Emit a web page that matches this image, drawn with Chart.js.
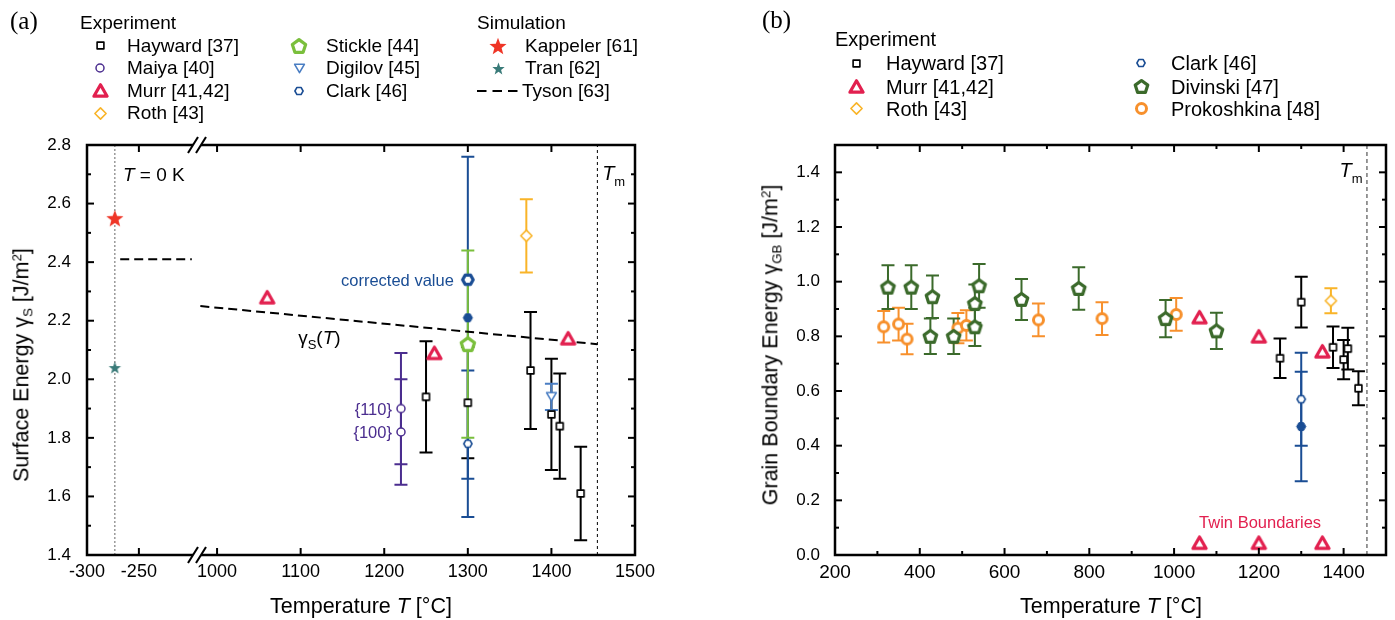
<!DOCTYPE html>
<html><head><meta charset="utf-8">
<script src="https://cdn.jsdelivr.net/npm/chart.js@4.4.1/dist/chart.umd.min.js"></script>
<style>
html,body{margin:0;padding:0;background:#fff;}
#wrap{position:relative;width:1395px;height:620px;overflow:hidden;font-family:"Liberation Sans",Arial,Helvetica,sans-serif;color:#000;background:#fff;}
canvas.c{position:absolute;top:0;}
.t{position:absolute;white-space:nowrap;line-height:22px;font-size:19px;}
.t sub{font-size:0.62em;vertical-align:-0.3em;}
.t sup{font-size:0.62em;vertical-align:0.55em;}
.lm{position:absolute;}
</style></head><body><div id="wrap">
<canvas id="a1" class="c" width="197" height="620" style="left:0px"></canvas>
<canvas id="a2" class="c" width="503" height="620" style="left:177px"></canvas>
<canvas id="b" class="c" width="655" height="620" style="left:740px"></canvas>
</div>
<script>
// ================= DATA =================
const ZERO_K = -273.15;
const T_MELT = 1455;

// ---- Panel (a): surface energy [J/m^2] vs temperature [°C] ----
const aXMinLeft = -300, aXMaxLeft = -194;
const aXMinRight = 976, aXMaxRight = 1500;
const aYMin = 1.4, aYMax = 2.8;
const aXTicksLeft = [-300, -250];
const aXTicksRight = [1000, 1100, 1200, 1300, 1400, 1500];
const aYTicks = [1.4, 1.6, 1.8, 2.0, 2.2, 2.4, 2.6, 2.8];
const aYMinor = [1.5, 1.7, 1.9, 2.1, 2.3, 2.5, 2.7];

const haywardA_T = [1250, 1300, 1375, 1400, 1410, 1435];
const haywardA_G = [1.94, 1.92, 2.03, 1.88, 1.84, 1.61];
const haywardA_E = [0.19, 0.19, 0.20, 0.19, 0.18, 0.16];
const maiya_T = [1220, 1220];
const maiya_G = [1.90, 1.82];
const maiya_E = [0.19, 0.18];
const maiya_planes = ['{110}', '{100}'];
const murrA_T = [1060, 1260, 1420];
const murrA_G = [2.28, 2.09, 2.14];
const rothA_T = [1370];
const rothA_G = [2.49];
const rothA_E = [0.125];
const stickle_T = [1300];
const stickle_G = [2.12];
const stickle_E = [0.32];
const digilov_T = [1400];
const digilov_G = [1.94];
const digilov_E = [0.045];
const clarkA_T = [1300];
const clarkA_G = [1.78];
const clarkA_E = [0.25];
const clarkAfilled_G = [2.21];
const clarkAfilled_E = [0.55];
const clarkAcorrected_G = [2.34];
const kappeler_T = [ZERO_K];
const kappeler_G = [2.55];
const tran_T = [ZERO_K];
const tran_G = [2.04];
const tysonLow_T = [-268, -199];
const tysonLow_G = [2.41, 2.41];
const tysonHigh_T = [980, 1455];
const tysonHigh_G = [2.25, 2.12];

// ---- Panel (b): grain boundary energy [J/m^2] vs temperature [°C] ----
const bXMin = 200, bXMax = 1500;
const bYMin = 0, bYMax = 1.5;
const bXTicks = [200, 400, 600, 800, 1000, 1200, 1400];
const bXMinor = [300, 500, 700, 900, 1100, 1300];
const bYTicks = [0.0, 0.2, 0.4, 0.6, 0.8, 1.0, 1.2, 1.4];
const bYMinor = [0.1, 0.3, 0.5, 0.7, 0.9, 1.1, 1.3];

const divinski_T = [325, 380, 430, 425, 480, 530, 530, 540, 640, 775, 980, 1100];
const divinski_G = [0.98, 0.98, 0.945, 0.80, 0.80, 0.835, 0.92, 0.985, 0.935, 0.975, 0.865, 0.82];
const divinski_E = [0.08, 0.08, 0.078, 0.065, 0.065, 0.07, 0.07, 0.08, 0.075, 0.078, 0.068, 0.066];
const prok_T = [315, 350, 370, 490, 510, 680, 830, 1005];
const prok_G = [0.835, 0.845, 0.79, 0.83, 0.84, 0.86, 0.865, 0.88];
const prok_E = [0.058, 0.06, 0.056, 0.055, 0.055, 0.06, 0.06, 0.06];
const murrB_T = [1060, 1200, 1350];
const murrB_G = [0.87, 0.80, 0.745];
const murrTwin_T = [1060, 1200, 1350];
const murrTwin_G = [0.045, 0.045, 0.045];
const haywardB_T = [1250, 1300, 1375, 1400, 1410, 1435];
const haywardB_G = [0.72, 0.925, 0.76, 0.715, 0.755, 0.61];
const haywardB_E = [0.072, 0.093, 0.076, 0.072, 0.076, 0.062];
const rothB_T = [1370];
const rothB_G = [0.93];
const rothB_E = [0.046];
const clarkB_T = [1300];
const clarkB_G = [0.57];
const clarkB_E = [0.17];
const clarkBfilled_G = [0.47];
const clarkBfilled_E = [0.20];

// ---- legend texts ----
const legendA_exp = ['Hayward [37]', 'Maiya [40]', 'Murr [41,42]', 'Roth [43]', 'Stickle [44]', 'Digilov [45]', 'Clark [46]'];
const legendA_sim = ['Kappeler [61]', 'Tran [62]', 'Tyson [63]'];
const legendB_exp = ['Hayward [37]', 'Murr [41,42]', 'Roth [43]', 'Clark [46]', 'Divinski [47]', 'Prokoshkina [48]'];

// ================= STYLE =================
const FONT = '"Liberation Sans", Arial, Helvetica, sans-serif';
const C = {
  hayward:'#000000', maiya:'#4b2d8f', murr:'#e2204f', roth:'#f9b428', stickle:'#7abf3c',
  digilov:'#4a7ec3', clark:'#1a4d94', kappeler:'#ef3526', tran:'#3a7b79',
  divinski:'#3b6a2b', prok:'#f7902c'
};
Chart.defaults.font.family = FONT;
Chart.defaults.color = '#000';

function shapePath(ctx, type, x, y, r) {
  ctx.beginPath();
  const poly = (n, start, shift, radii) => {
    for (let k = 0; k < n; k++) {
      const ang = start + k * 2 * Math.PI / n;
      const rr = radii ? radii[k % radii.length] : r;
      const px = x + rr * Math.cos(ang), py = y + shift + rr * Math.sin(ang);
      if (k) ctx.lineTo(px, py); else ctx.moveTo(px, py);
    }
    ctx.closePath();
  };
  if (type === 'circle') ctx.arc(x, y, r, 0, Math.PI * 2);
  else if (type === 'square') ctx.rect(x - r, y - r, 2 * r, 2 * r);
  else if (type === 'diamond') { ctx.moveTo(x, y - r); ctx.lineTo(x + r, y); ctx.lineTo(x, y + r); ctx.lineTo(x - r, y); ctx.closePath(); }
  else if (type === 'triangle') poly(3, -Math.PI / 2, r / 4);
  else if (type === 'triangleDown') poly(3, Math.PI / 2, -r / 4);
  else if (type === 'pentagon') poly(5, -Math.PI / 2, r * 0.0955);
  else if (type === 'hexagon') poly(6, 0, 0);
  else if (type === 'star') poly(10, -Math.PI / 2, r * 0.0955, [r, r * 0.42]);
}
function makeMarker(type, r, color, lw, fill) {
  const s = Math.ceil(2 * r + lw + 4);
  const c = document.createElement('canvas'); c.width = s; c.height = s;
  const ctx = c.getContext('2d');
  shapePath(ctx, type, s / 2, s / 2, r);
  ctx.fillStyle = fill || '#ffffff'; ctx.fill();
  if (lw > 0) { ctx.lineWidth = lw; ctx.strokeStyle = color; ctx.lineJoin = 'round'; ctx.stroke(); }
  return c;
}
const MK = {
  hayward: ['square', 3.4, C.hayward, 1.6],
  maiya: ['circle', 4, C.maiya, 1.5],
  murr: ['triangle', 7.6, C.murr, 3.2],
  roth: ['diamond', 5.6, C.roth, 1.6],
  stickle: ['pentagon', 7, C.stickle, 3.2],
  digilov: ['triangleDown', 5.6, C.digilov, 1.6],
  clark: ['hexagon', 4.1, C.clark, 1.6],
  clarkFilled: ['hexagon', 4.6, C.clark, 1, C.clark],
  clarkCorr: ['hexagon', 5.3, C.clark, 3.2],
  kappeler: ['star', 9, C.kappeler, 0, C.kappeler],
  tran: ['star', 6.5, C.tran, 0, C.tran],
  divinski: ['pentagon', 6.6, C.divinski, 3.2],
  prok: ['circle', 5, C.prok, 3]
};
const mk = {}; for (const k in MK) mk[k] = makeMarker(...MK[k]);

function pts(xs, ys) { return xs.map((x, i) => ({ x: x, y: ys[i] })); }
function mds(label, xs, ys, marker, extra) {
  return Object.assign({ label, data: pts(xs, ys), pointStyle: marker, pointRadius: 5, showLine: false,
    borderColor: 'rgba(0,0,0,0)', backgroundColor: 'rgba(0,0,0,0)' }, extra || {});
}
function lds(label, xs, ys, extra) {
  return Object.assign({ label, data: pts(xs, ys), showLine: true, pointRadius: 0, fill: false, tension: 0 }, extra || {});
}

// ================= PLUGINS =================
function errorBarPlugin() {
  return { id: 'errBars', beforeDatasetsDraw(chart) {
    const { ctx, chartArea: a } = chart; const sx = chart.scales.x, sy = chart.scales.y;
    const dsets = chart.data.datasets;
    ctx.save(); ctx.beginPath(); ctx.rect(a.left, a.top, a.width, a.height); ctx.clip();
    for (let i = dsets.length - 1; i >= 0; i--) {
      const ds = dsets[i]; if (!ds.err) continue;
      ctx.strokeStyle = ds.errColor; ctx.lineWidth = ds.errWidth || 2; ctx.lineCap = 'butt';
      ds.data.forEach((p, j) => {
        const e = ds.err[j]; if (e == null) return;
        const px = sx.getPixelForValue(p.x);
        const y1 = sy.getPixelForValue(p.y + e), y2 = sy.getPixelForValue(p.y - e);
        const hw = (ds.capW || 13) / 2;
        ctx.beginPath();
        ctx.moveTo(px, y1); ctx.lineTo(px, y2);
        ctx.moveTo(px - hw, y1); ctx.lineTo(px + hw, y1);
        ctx.moveTo(px - hw, y2); ctx.lineTo(px + hw, y2);
        ctx.stroke();
      });
    }
    ctx.restore();
  }};
}
function framePlugin(cfg) {
  return { id: 'frame', afterDraw(chart) {
    const { ctx, chartArea: a } = chart; const sx = chart.scales.x, sy = chart.scales.y;
    ctx.save(); ctx.strokeStyle = '#000'; ctx.lineCap = 'butt';
    const tick = (side, v, len) => {
      ctx.beginPath();
      if (side === 'bottom' || side === 'top') {
        const p = sx.getPixelForValue(v); const y0 = side === 'bottom' ? a.bottom : a.top;
        ctx.moveTo(p, y0); ctx.lineTo(p, y0 + (side === 'bottom' ? -len : len));
      } else {
        const p = sy.getPixelForValue(v); const x0 = side === 'left' ? a.left : a.right;
        ctx.moveTo(x0, p); ctx.lineTo(x0 + (side === 'left' ? len : -len), p);
      }
      ctx.stroke();
    };
    ctx.lineWidth = 2;
    cfg.sides.forEach(side => {
      const isX = side === 'top' || side === 'bottom';
      (isX ? cfg.xMajor : cfg.yMajor).forEach(v => tick(side, v, 7));
      ((isX ? cfg.xMinor : cfg.yMinor) || []).forEach(v => tick(side, v, 4));
    });
    ctx.lineWidth = 2.5; ctx.lineJoin = 'miter';
    ctx.beginPath();
    if (cfg.mode === 'full') { ctx.rect(a.left, a.top, a.width, a.height); }
    else if (cfg.mode === 'leftPart') {
      const x1 = a.right - 4;
      ctx.moveTo(x1, a.top); ctx.lineTo(a.left, a.top); ctx.lineTo(a.left, a.bottom); ctx.lineTo(x1, a.bottom);
    } else {
      const x0 = a.left + 4;
      ctx.moveTo(x0, a.top); ctx.lineTo(a.right, a.top); ctx.lineTo(a.right, a.bottom); ctx.lineTo(x0, a.bottom);
    }
    ctx.stroke();
    if (cfg.breakMarks) {
      ctx.lineWidth = 2;
      [a.top, a.bottom].forEach(y0 => {
        [-4, 4].forEach(off => {
          ctx.beginPath();
          ctx.moveTo(a.left + off - 5, y0 + 8); ctx.lineTo(a.left + off + 5, y0 - 8); ctx.stroke();
        });
      });
    }
    ctx.restore();
  }};
}
function drawRich(ctx, x, cy, item) {
  const main = item.size;
  const fontOf = p => (p.italic ? 'italic ' : '') + (p.size || main) + 'px ' + FONT;
  let w = 0;
  item.parts.forEach(p => { ctx.font = fontOf(p); p._w = ctx.measureText(p.text).width; w += p._w; });
  let cx = item.align === 'right' ? x - w : item.align === 'center' ? x - w / 2 : x;
  const base = cy + 0.36 * main;
  ctx.textBaseline = 'alphabetic'; ctx.textAlign = 'left';
  item.parts.forEach(p => {
    ctx.font = fontOf(p); ctx.fillStyle = item.color || '#000';
    ctx.fillText(p.text, cx, base + (p.dy || 0)); cx += p._w;
  });
}
function textPlugin(items) {
  return { id: 'richText', afterDatasetsDraw(chart) {
    const ctx = chart.ctx; const sx = chart.scales.x, sy = chart.scales.y;
    ctx.save();
    items.forEach(it => {
      drawRich(ctx, sx.getPixelForValue(it.x) + (it.dx || 0), sy.getPixelForValue(it.y) + (it.dy || 0), it);
    });
    ctx.restore();
  }};
}

function options(o) {
  return {
    responsive: false, animation: false, events: [],
    layout: { padding: o.padding, autoPadding: false },
    plugins: { legend: { display: false }, tooltip: { enabled: false } },
    scales: {
      x: { type: 'linear', min: o.xmin, max: o.xmax,
        grid: { display: false, drawTicks: false }, border: { display: false },
        afterBuildTicks: s => { s.ticks = o.xTicks.map(v => ({ value: v })); },
        afterFit: s => { s.height = 30; },
        ticks: { font: { size: o.xFont }, padding: 6, color: '#000', maxRotation: 0, minRotation: 0, autoSkip: false,
          callback: v => String(v) } },
      y: { type: 'linear', min: o.ymin, max: o.ymax, display: o.showY,
        grid: { display: false, drawTicks: false }, border: { display: false },
        afterBuildTicks: s => { s.ticks = o.yTicks.map(v => ({ value: v })); },
        afterFit: s => { s.width = o.yWidth; },
        ticks: { font: { size: o.yFont }, padding: o.yPad, color: '#000', autoSkip: false,
          callback: v => Number(v).toFixed(1) } }
    }
  };
}

// ================= PANEL (a) left part =================
new Chart(document.getElementById('a1'), {
  type: 'scatter',
  data: { datasets: [
    mds('Kappeler [61]', kappeler_T, kappeler_G, mk.kappeler),
    mds('Tran [62]', tran_T, tran_G, mk.tran),
    lds('Tyson [63]', tysonLow_T, tysonLow_G, { borderColor: '#000', borderWidth: 2, borderDash: [9, 5] }),
    lds('T = 0 K', [ZERO_K, ZERO_K], [aYMin, aYMax], { borderColor: '#666', borderWidth: 1, borderDash: [2, 2] })
  ]},
  options: options({ padding: { top: 145, bottom: 35, left: 0, right: 0 }, xmin: aXMinLeft, xmax: aXMaxLeft,
    ymin: aYMin, ymax: aYMax, xTicks: aXTicksLeft, yTicks: aYTicks, showY: true, yWidth: 87, yPad: 16, xFont: 18, yFont: 17 }),
  plugins: [errorBarPlugin(),
    framePlugin({ mode: 'leftPart', sides: ['left', 'top', 'bottom'], xMajor: [-250], yMajor: aYTicks, yMinor: aYMinor }),
    textPlugin([{ x: -265.4, y: 2.70, size: 19, align: 'left', parts: [{ text: 'T', italic: true }, { text: ' = 0 K' }] }])]
});

// ================= PANEL (a) right part =================
new Chart(document.getElementById('a2'), {
  type: 'scatter',
  data: { datasets: [
    mds('Clark [46] corrected', clarkA_T, clarkAcorrected_G, mk.clarkCorr),
    mds('Digilov [45]', digilov_T, digilov_G, mk.digilov, { err: digilov_E, errColor: C.digilov }),
    mds('Stickle [44]', stickle_T, stickle_G, mk.stickle, { err: stickle_E, errColor: C.stickle }),
    mds('Clark [46] filled', clarkA_T, clarkAfilled_G, mk.clarkFilled, { err: clarkAfilled_E, errColor: C.clark }),
    mds('Clark [46]', clarkA_T, clarkA_G, mk.clark, { err: clarkA_E, errColor: C.clark }),
    mds('Hayward [37]', haywardA_T, haywardA_G, mk.hayward, { err: haywardA_E, errColor: C.hayward }),
    mds('Maiya [40]', maiya_T, maiya_G, mk.maiya, { err: maiya_E, errColor: C.maiya }),
    mds('Murr [41,42]', murrA_T, murrA_G, mk.murr),
    mds('Roth [43]', rothA_T, rothA_G, mk.roth, { err: rothA_E, errColor: C.roth }),
    lds('Tyson [63]', tysonHigh_T, tysonHigh_G, { borderColor: '#000', borderWidth: 2, borderDash: [9, 5] }),
    lds('Tm', [T_MELT, T_MELT], [aYMin, aYMax], { borderColor: '#000', borderWidth: 1, borderDash: [3, 3] })
  ]},
  options: options({ padding: { top: 145, bottom: 35, left: 20, right: 45 }, xmin: aXMinRight, xmax: aXMaxRight,
    ymin: aYMin, ymax: aYMax, xTicks: aXTicksRight, yTicks: aYTicks, showY: false, yWidth: 0, yPad: 0, xFont: 18, yFont: 17 }),
  plugins: [errorBarPlugin(),
    framePlugin({ mode: 'rightPart', breakMarks: true, sides: ['right', 'top', 'bottom'],
      xMajor: [1000, 1100, 1200, 1300, 1400], yMajor: aYTicks, yMinor: aYMinor }),
    textPlugin([
      { x: clarkA_T[0], y: clarkAcorrected_G[0], dx: -14, size: 16.5, align: 'right', color: C.clark, parts: [{ text: 'corrected value' }] },
      { x: maiya_T[0], y: maiya_G[0], dx: -9, size: 16.5, align: 'right', color: C.maiya, parts: [{ text: maiya_planes[0] }] },
      { x: maiya_T[1], y: maiya_G[1], dx: -9, size: 16.5, align: 'right', color: C.maiya, parts: [{ text: maiya_planes[1] }] },
      { x: 1097, y: 2.144, size: 19, align: 'left', parts: [{ text: 'γ' }, { text: 'S', size: 13, dy: 5 }, { text: '(' }, { text: 'T', italic: true }, { text: ')' }] },
      { x: 1460.7, y: 2.705, size: 20, align: 'left', parts: [{ text: 'T', italic: true }, { text: 'm', size: 13, dy: 6 }] }
    ])]
});

// ================= PANEL (b) =================
new Chart(document.getElementById('b'), {
  type: 'scatter',
  data: { datasets: [
    mds('Murr [41,42]', murrB_T, murrB_G, mk.murr),
    mds('Murr twin boundaries', murrTwin_T, murrTwin_G, mk.murr),
    mds('Roth [43]', rothB_T, rothB_G, mk.roth, { err: rothB_E, errColor: C.roth }),
    mds('Hayward [37]', haywardB_T, haywardB_G, mk.hayward, { err: haywardB_E, errColor: C.hayward }),
    mds('Clark [46]', clarkB_T, clarkB_G, mk.clark, { err: clarkB_E, errColor: C.clark }),
    mds('Clark [46] filled', clarkB_T, clarkBfilled_G, mk.clarkFilled, { err: clarkBfilled_E, errColor: C.clark }),
    mds('Divinski [47]', divinski_T, divinski_G, mk.divinski, { err: divinski_E, errColor: C.divinski }),
    mds('Prokoshkina [48]', prok_T, prok_G, mk.prok, { err: prok_E, errColor: C.prok }),
    lds('Tm', [T_MELT, T_MELT], [bYMin, bYMax], { borderColor: '#777', borderWidth: 1.5, borderDash: [4, 3] })
  ]},
  options: options({ padding: { top: 145, bottom: 35, left: 0, right: 9 }, xmin: bXMin, xmax: bXMax,
    ymin: bYMin, ymax: bYMax, xTicks: bXTicks, yTicks: bYTicks, showY: true, yWidth: 95, yPad: 15, xFont: 19, yFont: 17 }),
  plugins: [errorBarPlugin(),
    framePlugin({ mode: 'full', sides: ['left', 'right', 'top', 'bottom'],
      xMajor: [400, 600, 800, 1000, 1200, 1400], xMinor: bXMinor, yMajor: bYTicks, yMinor: bYMinor }),
    textPlugin([
      { x: 1390.4, y: 1.409, size: 20, align: 'left', parts: [{ text: 'T', italic: true }, { text: 'm', size: 13, dy: 6 }] },
      { x: 1203, y: 0.121, size: 16.5, align: 'center', color: C.murr, parts: [{ text: 'Twin Boundaries' }] }
    ])]
});

// ================= HTML TEXT & LEGENDS =================
const wrap = document.getElementById('wrap');
function txt(html, left, cy, size, extra) {
  const d = document.createElement('div'); d.className = 't'; d.innerHTML = html;
  d.style.left = left + 'px'; d.style.top = (cy - 11) + 'px'; d.style.fontSize = size + 'px';
  if (extra) Object.assign(d.style, extra);
  wrap.appendChild(d); return d;
}
function legMarker(key, cx, cy) {
  const c = makeMarker(...MK[key]); c.className = 'lm';
  c.style.left = (cx - c.width / 2) + 'px'; c.style.top = (cy - c.height / 2) + 'px';
  wrap.appendChild(c);
}
function legDash(x0, x1, cy) {
  const c = document.createElement('canvas'); c.width = x1 - x0; c.height = 6; c.className = 'lm';
  c.style.left = x0 + 'px'; c.style.top = (cy - 3) + 'px';
  const ctx = c.getContext('2d'); ctx.strokeStyle = '#000'; ctx.lineWidth = 2; ctx.setLineDash([9.5, 6]);
  ctx.beginPath(); ctx.moveTo(0, 3); ctx.lineTo(c.width, 3); ctx.stroke();
  wrap.appendChild(c);
}

// panel labels
txt('(a)', 10, 21, 25, { fontFamily: '"Liberation Serif", "Times New Roman", serif' });
txt('(b)', 762, 20, 25, { fontFamily: '"Liberation Serif", "Times New Roman", serif' });

// legend (a)
const rowsA = [45.7, 68.3, 90.7, 113.3];
txt('Experiment', 80, 22.7, 19);
['hayward', 'maiya', 'murr', 'roth'].forEach((k, i) => { legMarker(k, 100, rowsA[i]); txt(legendA_exp[i], 127, rowsA[i], 19); });
['stickle', 'digilov', 'clark'].forEach((k, i) => { legMarker(k, 299, rowsA[i]); txt(legendA_exp[4 + i], 326, rowsA[i], 19); });
txt('Simulation', 477, 22.7, 19);
legMarker('kappeler', 498, rowsA[0]); txt(legendA_sim[0], 525, rowsA[0], 19);
legMarker('tran', 498, rowsA[1]); txt(legendA_sim[1], 525, rowsA[1], 19);
legDash(477, 519, rowsA[2]); txt(legendA_sim[2], 522, rowsA[2], 19);

// legend (b)
const rowsB = [63.3, 86.7, 108.8];
txt('Experiment', 835, 39.3, 20);
['hayward', 'murr', 'roth'].forEach((k, i) => { legMarker(k, 856, rowsB[i]); txt(legendB_exp[i], 886, rowsB[i], 20); });
['clark', 'divinski', 'prok'].forEach((k, i) => { legMarker(k, 1141, rowsB[i]); txt(legendB_exp[3 + i], 1171, rowsB[i], 20); });

// axis titles
txt('Temperature <i>T</i> [°C]', 361, 606, 21.5, { transform: 'translateX(-50%)' });
txt('Temperature <i>T</i> [°C]', 1111, 606, 21.5, { transform: 'translateX(-50%)' });
const ya = txt('Surface Energy γ<sub>S</sub> [J/m<sup>2</sup>]', 23, 365, 21.5, { transform: 'translate(-50%,-50%) rotate(-90deg)' });
ya.style.top = '365px';
const yb = txt('Grain Boundary Energy γ<sub>GB</sub> [J/m<sup>2</sup>]', 772, 345, 21.5, { transform: 'translate(-50%,-50%) rotate(-90deg)' });
yb.style.top = '345px';
</script></body></html>
